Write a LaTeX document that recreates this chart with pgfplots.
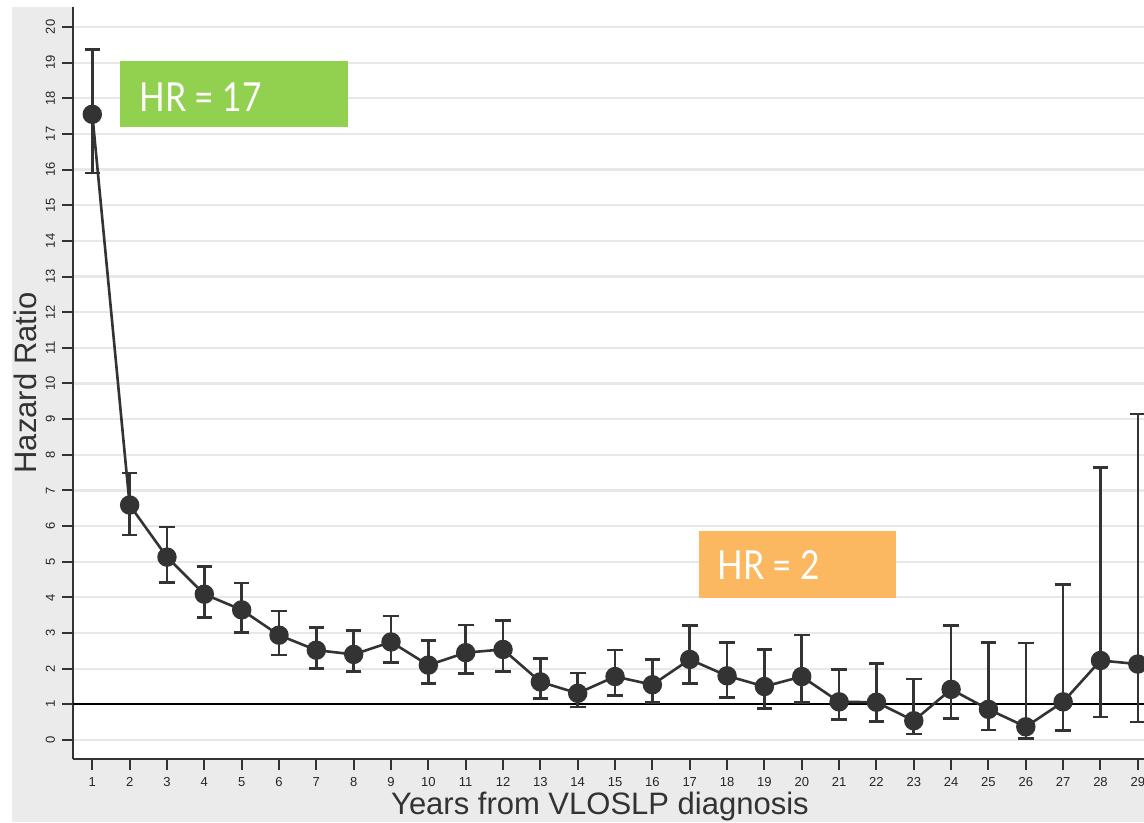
\documentclass[border=0pt]{standalone}
\usepackage{pgfplots}
\pgfplotsset{compat=1.18}
\usepackage{pgfplotstable}
\usepackage{fontspec}
\setmainfont{Liberation Sans}
\newfontfamily\boxfont{Lato}

\definecolor{bg}{HTML}{EBEBEB}
\definecolor{gridgray}{HTML}{E8E8E8}
\definecolor{ink}{HTML}{333333}
\definecolor{hrgreen}{HTML}{92D050}
\definecolor{hrorange}{HTML}{FBB860}

% hazard ratio by year with lower/upper confidence limits
\pgfplotstableread{
x  y     lo    hi
1  17.55 15.90 19.36
2  6.59  5.75  7.49
3  5.13  4.41  5.97
4  4.09  3.44  4.86
5  3.65  3.02  4.40
6  2.94  2.38  3.62
7  2.52  2.00  3.15
8  2.40  1.92  3.07
9  2.75  2.17  3.48
10 2.10  1.58  2.79
11 2.45  1.87  3.23
12 2.54  1.92  3.35
13 1.63  1.17  2.28
14 1.31  0.93  1.88
15 1.78  1.25  2.52
16 1.55  1.05  2.26
17 2.26  1.59  3.21
18 1.80  1.20  2.73
19 1.50  0.89  2.54
20 1.78  1.05  2.95
21 1.07  0.58  1.98
22 1.06  0.52  2.14
23 0.54  0.17  1.71
24 1.42  0.61  3.21
25 0.86  0.28  2.73
26 0.37  0.05  2.72
27 1.07  0.26  4.36
28 2.23  0.65  7.65
29 2.13  0.51  9.14
}\hrdata

\begin{document}
\begin{tikzpicture}[x=1pt,y=1pt]
% grey panel behind the plot
\fill[bg] (-30.5,-31.5) rectangle (535.5,376);
\begin{axis}[
  at={(0,0)}, anchor=south west,
  scale only axis, width=535.5pt, height=376pt,
  xmin=0.483, xmax=29.166, ymin=-0.533, ymax=20.56,
  axis background/.style={fill=white},
  axis x line*=bottom, axis y line*=left,
  axis line style={ink, line width=1.2pt, -},
  xtick={1,...,29}, ytick={0,...,20},
  tick align=outside, major tick length=5.5pt,
  tick style={ink, line width=1pt},
  ymajorgrids, grid style={gridgray, line width=1.1pt},
  /pgf/number format/assume math mode=true,
  xticklabel style={font=\fontsize{6.5}{7}\selectfont, text=black!85},
  yticklabel style={font=\fontsize{6.5}{7}\selectfont, text=black!85, rotate=90, anchor=south},
  xlabel={Years from VLOSLP diagnosis},
  ylabel={Hazard Ratio},
  label style={font=\fontsize{15.5}{18}\selectfont, text=ink},
  xlabel style={at={(axis description cs:0.492,-0.0625)}, anchor=center},
  ylabel style={at={(axis description cs:-0.0448,0.5)}, anchor=center},
  clip marker paths=true,
]
% reference line at HR = 1
\addplot[black, line width=1pt, forget plot] coordinates {(0.483,1) (29.166,1)};
\addplot[ink, line width=1.3pt, mark=*, mark size=4.2pt,
  mark options={fill=ink, draw=ink},
  error bars/.cd, y dir=both, y explicit,
  error bar style={ink, line width=1.3pt},
  error mark options={rotate=90, mark size=3.9pt, line width=1.3pt, ink}]
  table[x=x, y=y,
        y error plus expr=\thisrow{hi}-\thisrow{y},
        y error minus expr=\thisrow{y}-\thisrow{lo}] {\hrdata};
\end{axis}
% annotation boxes
\fill[hrgreen] (23.5,316) rectangle (137.5,349);
\node[anchor=base west, inner sep=0pt, text=white, xscale=0.84,
      font=\boxfont\fontsize{20}{24}\selectfont] at (33,323.6) {HR = 17};
\fill[hrorange] (313,80.65) rectangle (411.5,114);
\node[anchor=base west, inner sep=0pt, text=white, xscale=0.84,
      font=\boxfont\fontsize{20}{24}\selectfont] at (322,89.5) {HR = 2};
\pgfresetboundingbox
\useasboundingbox (-36.5,-32) rectangle (535.5,379.5);
\end{tikzpicture}
\end{document}
